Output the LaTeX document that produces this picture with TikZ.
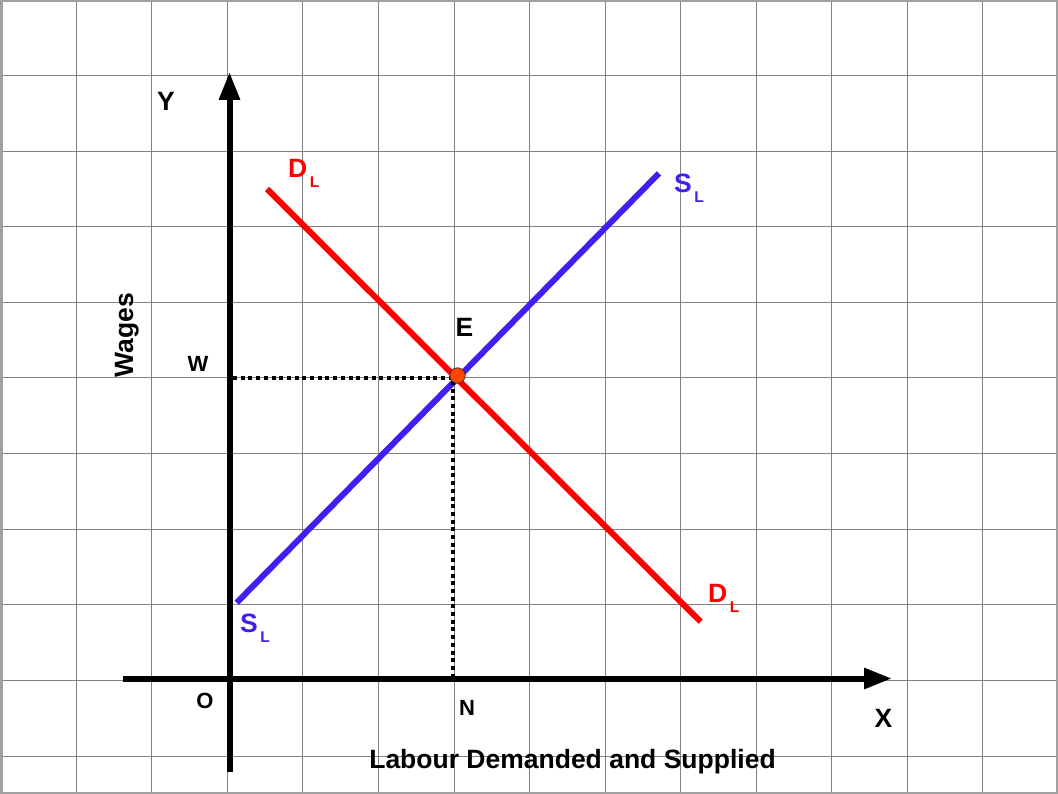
\documentclass[tikz,border=0pt]{standalone}
\usepackage{fontspec}
\setmainfont{Liberation Sans}
\usetikzlibrary{arrows.meta}
\definecolor{supblue}{RGB}{64,32,240}
\definecolor{dotred}{RGB}{255,69,0}
\definecolor{gridgray}{RGB}{130,130,130}
\definecolor{framegray}{RGB}{160,160,160}
\newcommand{\fsz}[1]{\fontsize{#1}{#1}\selectfont\bfseries}
\newcommand{\subL}{\hspace{2.5pt}\raisebox{-10pt}{\fontsize{15.5}{15.5}\selectfont\bfseries L}}
\begin{document}
\begin{tikzpicture}[x=1pt,y=-1pt,
  lbl/.style={inner sep=0pt, anchor=base, font=\fsz{26.5}},
  lblsm/.style={inner sep=0pt, anchor=base, font=\fsz{22}},
  sublbl/.style={inner sep=0pt, anchor=base west, font=\fsz{26.5}},
  axis/.style={line width=6pt, -{Triangle[length=28pt,width=20pt]}},
  curve/.style={line width=6pt},
  guide/.style={line width=4pt, dash pattern=on 4pt off 3.7pt},
  gridline/.style={gridgray, line width=1pt}]
\useasboundingbox (0,0) rectangle (1058,794);
\fill[white] (0,0) rectangle (1058,794);
\foreach \i in {0,...,12} \draw[gridline] ({76.3+75.55*\i},0) -- ({76.3+75.55*\i},794);
\foreach \j in {1,...,10} \draw[gridline] (0,{75.6*\j}) -- (1058,{75.6*\j});
\draw[framegray, line width=2.5pt] (1.25,1.25) rectangle (1056.75,792.75);
% axes
\coordinate (ybot) at (229.5,772);
\coordinate (ytop) at (229.5,72);
\coordinate (xleft) at (123,678.5);
\coordinate (xright) at (892,678.5);
\draw[axis] (ybot) -- (ytop);
\draw[axis] (xleft) -- (xright);
% curves
\coordinate (d1) at (267,189);
\coordinate (d2) at (700.7,621.7);
\coordinate (s1) at (236.7,602.7);
\coordinate (s2) at (659,173.3);
\draw[curve, red] (d1) -- (d2);
\draw[curve, supblue] (s1) -- (s2);
% guides
\coordinate (wpt) at (233,378);
\coordinate (ept) at (453.3,378);
\coordinate (npt) at (453.3,675.5);
\draw[guide] (wpt) -- (ept) -- (npt);
\node[circle, fill=dotred, draw=black!80, line width=0.7pt, minimum size=15.5pt, inner sep=0pt] (E) at (457.5,375.5) {};
% labels
\node[lbl] (ylab) at (166,111) {Y};
\node[lbl] (xlab) at (883.5,727) {X};
\node[lbl] (elab) at (464.5,337) {E};
\node[lblsm] (wlab) at (198,371) {W};
\node[lblsm] (olab) at (205,708.5) {O};
\node[lblsm] (nlab) at (467,715) {N};
\node[lbl] (xtitle) at (572.5,768) {Labour Demanded and Supplied};
\node[lbl, rotate=90] (ytitle) at (133,335) {Wages};
\node[sublbl, text=red] (dtop) at (288,178) {D\subL};
\node[sublbl, text=red] (dbot) at (708,602) {D\subL};
\node[sublbl, text=supblue] (stop) at (674,192.5) {S\subL};
\node[sublbl, text=supblue] (sbot) at (240,632.5) {S\subL};
\end{tikzpicture}
\end{document}
